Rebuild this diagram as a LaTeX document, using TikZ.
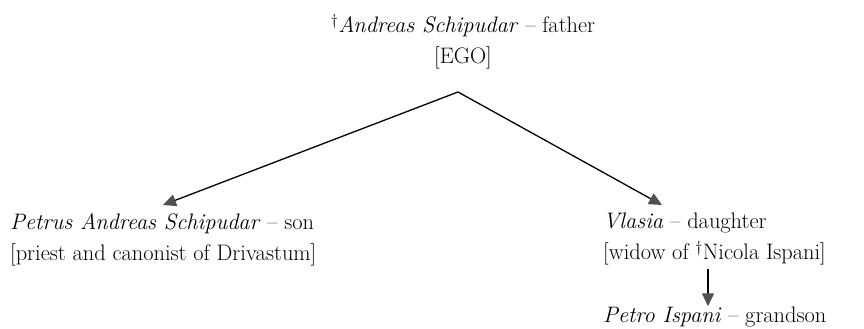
\documentclass[tikz,border=0pt]{standalone}
\usepackage{tikz}
\usetikzlibrary{arrows.meta, positioning, calc}
\definecolor{tipgray}{RGB}{80, 80, 80}

\begin{document}
\begin{tikzpicture}[x=1pt,y=1pt,
	person/.style={inner sep=0pt, font=\fontsize{22.4}{31}\selectfont},
	kin/.style={line width=1.3pt, -{Triangle[length=13pt,width=12pt,color=tipgray,fill=tipgray]}}]
						\useasboundingbox (0,0) rectangle (864,329);
						\node[person,align=center,anchor=north] (father) at (463,315) {\textsuperscript{\dag}\textit{Andreas Schipudar} -- father\\ {[EGO]}};
						\node[person,align=left,anchor=north west] (son) at (10,116) {\textit{Petrus Andreas Schipudar} -- son\\ {[priest and canonist of Drivastum]}};
						\node[person,align=left,anchor=north west] (daughter) at (603,116) {\textit{Vlasia} -- daughter\\ {[widow of \textsuperscript{\dag}Nicola Ispani]}};
						\node[person,anchor=base west] (grandson) at (603,6) {\textit{Petro Ispani} -- grandson};
						\coordinate (apex) at (458,237);
						\draw[kin] (apex) -- ([shift={(153,8)}]son.north west);
						\draw[kin] (apex) -- ([shift={(59,8)}]daughter.north west);
						\draw[kin] ([shift={(105,-3)}]daughter.south west) -- ([shift={(105,1)}]grandson.north west);
					\end{tikzpicture}
\end{document}
